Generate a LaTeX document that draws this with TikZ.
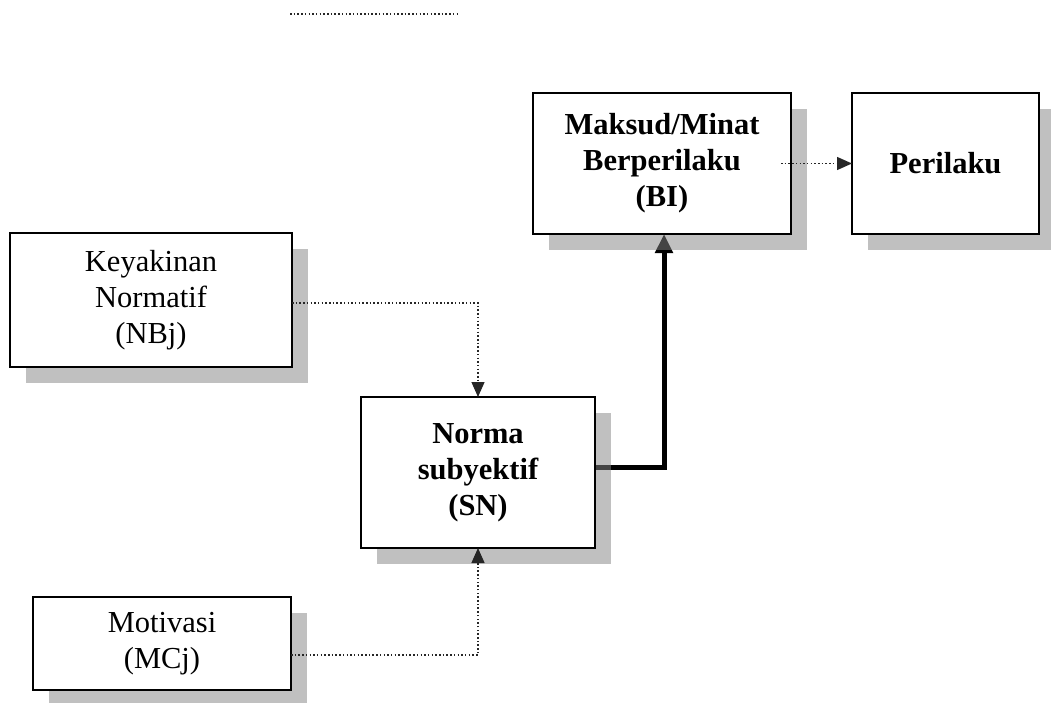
\documentclass[tikz,border=0pt]{standalone}
\usepackage{fontspec}
\setmainfont{Liberation Serif}
\usetikzlibrary{arrows.meta,calc}
\pgfdeclarelayer{lineslayer}
\pgfdeclarelayer{shadowlayer}
\pgfsetlayers{lineslayer,shadowlayer,main}
\definecolor{shadowc}{RGB}{133,133,133}
\tikzset{
  boxnode/.style={draw=black, fill=white, line width=1.3pt, inner sep=0pt, outer sep=0pt,
    align=center, font=\fontsize{30.5}{36}\selectfont},
  dotline/.style={draw=black!85, line width=1.3pt, dash pattern=on 1.5pt off 2.2pt},
  dotarrow/.style={dotline, -{Triangle[length=15pt,width=13pt]}},
  thickarrow/.style={draw=black, line width=5pt, line join=miter, -{Triangle[length=19pt,width=17pt]}},
  shadowfill/.style={fill=shadowc, fill opacity=0.514}
}
\begin{document}
\begin{tikzpicture}[x=1pt,y=-1pt]
\useasboundingbox (0,0) rectangle (1051,703);
% boxes
\node[boxnode, bold/.style={}, minimum width=258pt, minimum height=141pt] (mak) at (662,163.5) {\bfseries Maksud/Minat\\\bfseries Berperilaku\\\bfseries (BI)};
\node[boxnode, minimum width=187pt, minimum height=141pt] (per) at (945.5,163.5) {\bfseries Perilaku};
\node[boxnode, minimum width=282pt, minimum height=134pt] (key) at (151,300) {Keyakinan\\Normatif\\(NBj)};
\node[boxnode, minimum width=234pt, minimum height=151pt] (nor) at (478,472.5) {\bfseries Norma\\\bfseries subyektif\\\bfseries (SN)};
\node[boxnode, minimum width=258pt, minimum height=93pt] (mot) at (162,643.5) {Motivasi\\(MCj)};
% shadows
\begin{pgfonlayer}{shadowlayer}
\foreach \b in {mak,per,key,nor,mot}{
  \fill[shadowfill] ([shift={(16,16)}]\b.north west) rectangle ([shift={(16,16)}]\b.south east);
}
\end{pgfonlayer}
% thick connector (under shadows)
\begin{pgfonlayer}{lineslayer}
\draw[thickarrow] ([yshift=5.5pt]nor.east) -| ([xshift=2pt]mak.south);
\end{pgfonlayer}
% dotted connectors
\draw[dotarrow] ([xshift=-10pt]mak.east) -- (per.west);
\draw[dotarrow] ([yshift=-3pt]key.east) -| (nor.north);
\draw[dotarrow] ([yshift=-11.5pt]mot.east) -| (nor.south);
% top dotted line
\coordinate (t1) at (290,14);
\coordinate (t2) at (457,14);
\draw[dotline] (t1) -- (t2);
\end{tikzpicture}
\end{document}
